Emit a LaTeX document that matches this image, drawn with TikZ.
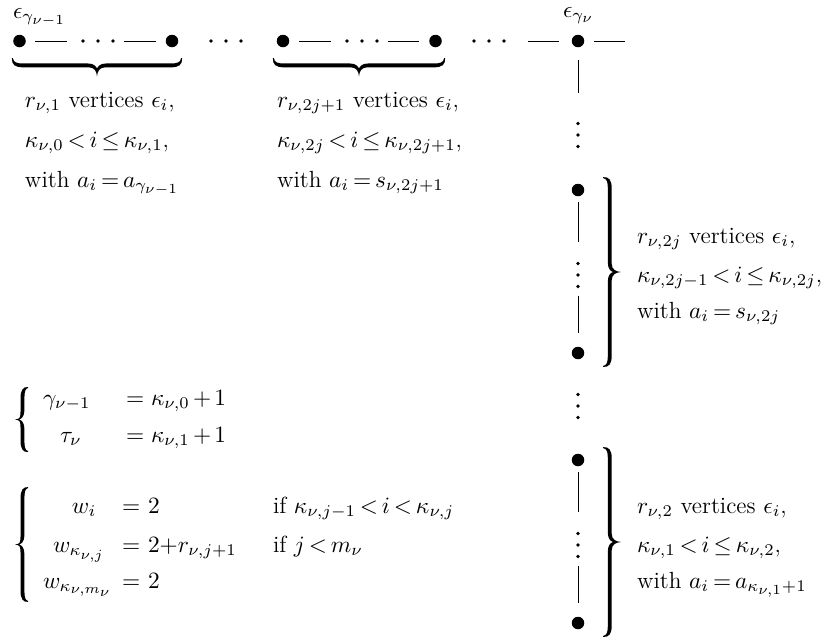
\RequirePackage{fix-cm}
\documentclass[tikz,border=0pt]{standalone}
\DeclareMathSizes{11.4}{11.4}{7.98}{6.8}
\thickmuskip=3mu
\medmuskip=2.5mu
% filled TeX-like right brace: #1 width, #2 stem centre, #3 half height (pt numbers)
\newcommand\bracefill[3]{%
 \fill (0pt,{#3pt})
  .. controls ({#2pt-0.3pt},{#3pt+0.2pt}) and ({#2pt+0.95pt},{#3pt-1.5pt}) .. ({#2pt+0.95pt},{#3pt-5.5pt})
  -- ({#2pt+0.95pt},4pt)
  .. controls ({#2pt+0.95pt},1.2pt) and ({#1pt-2.5pt},0.2pt) .. ({#1pt},0pt)
  .. controls ({#1pt-2.5pt},-0.2pt) and ({#2pt+0.95pt},-1.2pt) .. ({#2pt+0.95pt},-4pt)
  -- ({#2pt+0.95pt},{-#3pt+5.5pt})
  .. controls ({#2pt+0.95pt},{-#3pt+1.5pt}) and ({#2pt-0.3pt},{-#3pt-0.2pt}) .. (0pt,{-#3pt})
  -- (0pt,{-#3pt+0.45pt})
  .. controls ({#2pt-1.3pt},{-#3pt+0.8pt}) and ({#2pt-0.95pt},{-#3pt+2.5pt}) .. ({#2pt-0.95pt},{-#3pt+5.5pt})
  -- ({#2pt-0.95pt},-4.5pt)
  .. controls ({#2pt-0.95pt},-1.5pt) and ({#2pt+0.6pt},-0.3pt) .. ({#2pt+1.6pt},0pt)
  .. controls ({#2pt+0.6pt},0.3pt) and ({#2pt-0.95pt},1.5pt) .. ({#2pt-0.95pt},4.5pt)
  -- ({#2pt-0.95pt},{#3pt-5.5pt})
  .. controls ({#2pt-0.95pt},{#3pt-2.5pt}) and ({#2pt-1.3pt},{#3pt-0.8pt}) .. (0pt,{#3pt-0.45pt})
  -- cycle;}
\begin{document}
\begin{tikzpicture}[x=0.4878pt,y=-0.4878pt,
  every node/.style={font=\fontsize{11.4}{13.7}\selectfont},
  txt/.style={anchor=base west,inner sep=0pt,outer sep=0pt},
  vtx/.style={circle,fill=black,inner sep=0pt,minimum size=6.1pt},
  hdots/.style={inner sep=0pt,minimum width=17pt,minimum height=2.2pt,
    path picture={\foreach \k in {-1,0,1}{\fill ([xshift=\k*7.3pt]path picture bounding box.center) circle (0.9pt);}}},
  vdots/.style={inner sep=0pt,minimum width=2.2pt,minimum height=13.2pt,
    path picture={\foreach \k in {-1,0,1}{\fill ([yshift=\k*5.6pt]path picture bounding box.center) circle (0.9pt);}}},
  edge/.style={line width=0.45pt}]
\useasboundingbox (0,0) rectangle (822,639);
% top row
\node[txt] (l1) at (13,18) {$\epsilon_{\gamma_{\nu-1}}$};
\node[vtx] (b1) at (19.5,41) {};
\node[hdots] (d1) at (98,41) {};
\node[vtx] (b2) at (172,41) {};
\node[hdots] (d2) at (226,41) {};
\node[vtx] (b3) at (283,41) {};
\node[hdots] (d3) at (362,41) {};
\node[vtx] (b4) at (435.5,41) {};
\node[hdots] (d4) at (489,41) {};
\node[vtx] (b5) at (578,41) {};
\node[txt] (l2) at (563,17) {$\epsilon_{\gamma_\nu}$};
\coordinate (e1) at (625,41);
\draw[edge,shorten <=4.5pt,shorten >=6.6pt] (b1) -- (d1);
\draw[edge,shorten <=4.2pt,shorten >=4.75pt] (d1) -- (b2);
\draw[edge,shorten <=4.75pt,shorten >=6.6pt] (b3) -- (d3);
\draw[edge,shorten <=4.2pt,shorten >=5pt] (d3) -- (b4);
\draw[edge,shorten <=10.5pt,shorten >=6.2pt] (d4) -- (b5);
\draw[edge,shorten <=4.75pt] (b5) -- (e1);
% underbraces
\begin{scope}[shift={(97,58)},rotate=-90]\bracefill{9.0}{3.6}{41.5}\end{scope}
\begin{scope}[shift={(359,58)},rotate=-90]\bracefill{9.0}{3.6}{42}\end{scope}
% top-left text blocks
\node[txt] (t11) at (25,107) {$r_{\nu,1}$ vertices $\epsilon_i$,};
\node[txt] (t12) at (25,147) {$\kappa_{\nu,0}<i\leq\kappa_{\nu,1}$,};
\node[txt] (t13) at (25,187) {with $a_i=a_{\gamma_{\nu-1}}$};
\node[txt] (t21) at (277,107) {$r_{\nu,2j+1}$ vertices $\epsilon_i$,};
\node[txt] (t22) at (277,147) {$\kappa_{\nu,2j}<i\leq\kappa_{\nu,2j+1}$,};
\node[txt] (t23) at (277,187) {with $a_i=s_{\nu,2j+1}$};
% vertical column
\node[vdots] (v1) at (578,135) {};
\node[vtx] (b6) at (578,190) {};
\node[vdots] (v2) at (578,275) {};
\node[vtx] (b7) at (578,353) {};
\node[vdots] (v3) at (578,406) {};
\node[vtx] (b8) at (578,460) {};
\node[vdots] (v4) at (578,545) {};
\node[vtx] (b9) at (578,623) {};
\draw[edge,shorten <=6.2pt,shorten >=13.9pt] (b5) -- (v1);
\draw[edge,shorten <=2.8pt,shorten >=9.5pt] (b6) -- (v2);
\draw[edge,shorten <=3.2pt,shorten >=6.7pt] (v2) -- (b7);
\draw[edge,shorten <=2.8pt,shorten >=9.5pt] (b8) -- (v4);
\draw[edge,shorten <=3.2pt,shorten >=6.7pt] (v4) -- (b9);
% right braces
\begin{scope}[shift={(603,272)}]\bracefill{8.8}{3.3}{46.3}\end{scope}
\begin{scope}[shift={(603,542)}]\bracefill{8.8}{3.3}{46.3}\end{scope}
\node[txt] (t31) at (637,243) {$r_{\nu,2j}$ vertices $\epsilon_i$,};
\node[txt] (t32) at (637,282) {$\kappa_{\nu,2j-1}<i\leq\kappa_{\nu,2j}$,};
\node[txt] (t33) at (637,318) {with $a_i=s_{\nu,2j}$};
\node[txt] (t41) at (637,513) {$r_{\nu,2}$ vertices $\epsilon_i$,};
\node[txt] (t42) at (637,552) {$\kappa_{\nu,1}<i\leq\kappa_{\nu,2}$,};
\node[txt] (t43) at (637,588) {with $a_i=a_{\kappa_{\nu,1}+1}$};
% left systems
\begin{scope}[shift={(28,419.5)},xscale=-1]\bracefill{6.3}{2.7}{15.85}\end{scope}
\node[txt] (g1) at (43,405) {$\gamma_{\nu-1}$};
\node[txt] (g2) at (126,405) {$=$};
\node[txt] (g3) at (151,405) {$\kappa_{\nu,0}+1$};
\node[txt] (h1) at (60,442) {$\tau_\nu$};
\node[txt] (h2) at (126,442) {$=$};
\node[txt] (h3) at (151,442) {$\kappa_{\nu,1}+1$};
\begin{scope}[shift={(28,544.5)},xscale=-1]\bracefill{6.3}{2.7}{28}\end{scope}
\node[txt] (w11) at (72,513) {$w_i$};
\node[txt] (w12) at (122,513) {$=$};
\node[txt] (w13) at (148,513) {$2$};
\node[txt] (w14) at (273,513) {if $\kappa_{\nu,j-1}<i<\kappa_{\nu,j}$};
\node[txt] (w21) at (53,552) {$w_{\kappa_{\nu,j}}$};
\node[txt] (w22) at (122,552) {$=$};
\node[txt] (w23) at (148,552) {$2{+}r_{\nu,j+1}$};
\node[txt] (w24) at (273,552) {if $j<m_\nu$};
\node[txt] (w31) at (43,588) {$w_{\kappa_{\nu,m_\nu}}$};
\node[txt] (w32) at (122,588) {$=$};
\node[txt] (w33) at (148,588) {$2$};
\end{tikzpicture}
\end{document}
